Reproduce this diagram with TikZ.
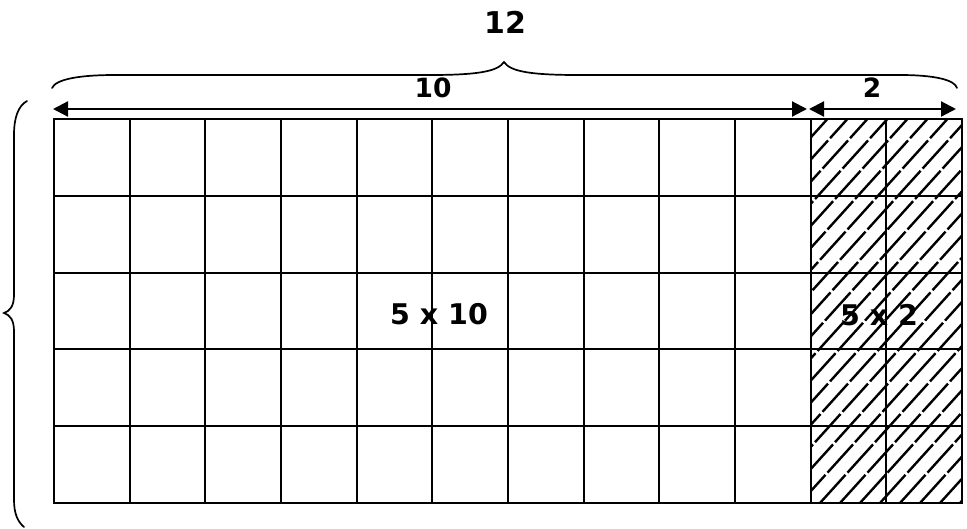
\documentclass[tikz,border=0pt]{standalone}
\usepackage{fontspec}
\setmainfont{DejaVu Sans}
\usetikzlibrary{arrows.meta}
\tikzset{
  gridline/.style={line width=2pt, line cap=rect},
  bracestroke/.style={line width=1.7pt, line cap=round},
  dimarrow/.style={line width=2.2pt, {Triangle[length=15pt,width=15pt]}-{Triangle[length=15pt,width=15pt]}},
  hatchline/.style={line width=2.4pt, dash pattern=on 38pt off 3pt},
  lbl/.style={font=\bfseries, inner sep=0pt, anchor=center}
}
\begin{document}
\begin{tikzpicture}[x=1pt,y=-1pt]
\useasboundingbox (0,0) rectangle (967,528);
% labels in grid
\node[lbl, font=\bfseries\fontsize{28.5}{31}\selectfont] (big) at (439,314) {5 x 10};
\node[lbl, font=\bfseries\fontsize{28.5}{31}\selectfont] (small) at (879,315) {5 x 2};
% hatching over the 5 x 2 region
\begin{scope}
  \clip (811,119) rectangle (962,503);
  \foreach \x in {400,420,...,980} {
    \draw[hatchline] (\x,503) -- ++(380,-420);
  }
\end{scope}
% grid
\foreach \i in {0,...,12} {
  \draw[gridline] ({54+\i*75.67},119) -- ({54+\i*75.67},503);
}
\foreach \j in {0,...,5} {
  \draw[gridline] (54,{119+\j*76.8}) -- (962,{119+\j*76.8});
}
% dimension arrows
\coordinate (a0) at (53,109);
\coordinate (a1) at (807,109);
\coordinate (a2) at (809,109);
\coordinate (a3) at (956,109);
\draw[dimarrow] (a0) -- (a1);
\draw[dimarrow] (a2) -- (a3);
\node[lbl, font=\bfseries\fontsize{26.5}{29}\selectfont] (ten) at (433,88) {10};
\node[lbl, font=\bfseries\fontsize{26.5}{29}\selectfont] (two) at (872,88) {2};
% top brace
\draw[bracestroke] (52,88) .. controls (56,79) and (80,75) .. (115,75)
  -- (430,75) .. controls (480,75) and (498,71) .. (504,62)
  .. controls (510,71) and (528,75) .. (578,75)
  -- (900,75) .. controls (935,75) and (955,80) .. (957,88);
\node[lbl, font=\bfseries\fontsize{30}{33}\selectfont] (twelve) at (505,22) {12};
% left brace
\draw[bracestroke] (27,101) .. controls (18,106) and (14,118) .. (14,135)
  -- (14,295) .. controls (14,306) and (10,311) .. (4,313)
  .. controls (10,315) and (14,320) .. (14,331)
  -- (14,500) .. controls (14,514) and (18,522) .. (24,527);
\end{tikzpicture}
\end{document}
